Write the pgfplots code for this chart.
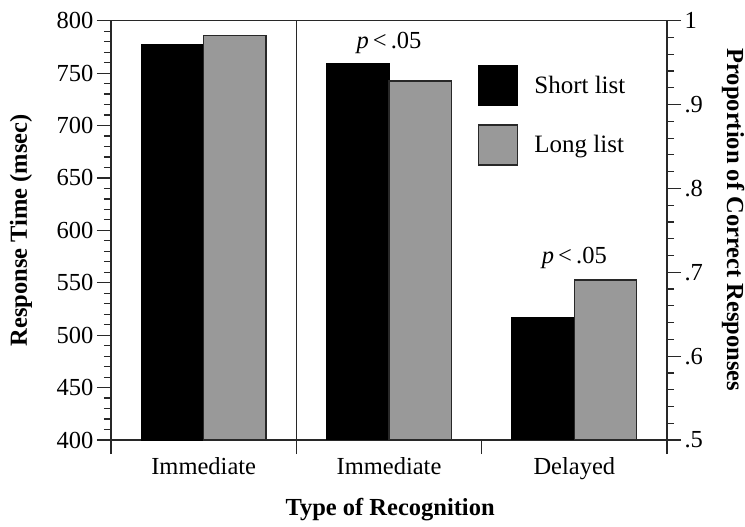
\documentclass[border=0pt]{standalone}
\usepackage{fontspec}
\setmainfont{Liberation Serif}
\usepackage{pgfplots}
\pgfplotsset{compat=1.18}
\definecolor{bargray}{RGB}{153,153,153}
\definecolor{axgray}{RGB}{40,40,40}
\begin{document}
\begin{tikzpicture}
\path[use as bounding box] (-111bp,-87bp) rectangle (634bp,440bp);
\pgfplotsset{
  common/.style={
    scale only axis, width=556bp, height=419.3bp,
    xmin=0, xmax=3,
    axis line style={axgray, line width=1.4bp},
    tick style={axgray, line width=1.2bp},
    major tick length=14bp, minor tick length=7bp,
    tick align=outside,
    /pgf/number format/assume math mode=true,
    ticklabel style={font=\fontsize{24.5bp}{28bp}\selectfont},
    label style={font=\fontsize{24.5bp}{29bp}\selectfont\bfseries},
  }
}
\begin{axis}[common,
  ymin=400, ymax=800,
  ytick={400,450,500,550,600,650,700,750,800},
  minor y tick num=4,
  ytick pos=left,
  xtick={0,1,2,3},
  xticklabels={Immediate,Immediate,Delayed},
  x tick label as interval,
  xtick pos=bottom,
  xlabel={Type of Recognition},
  ylabel={Response Time (msec)},
  ylabel style={at={(axis description cs:-0.162,0.5)}, anchor=center},
  xlabel style={at={(axis description cs:0.502,-0.167)}, anchor=center},
]
\addplot[ybar, bar width=0.337, bar shift=-0.1685, fill=black, draw=black, line width=1bp] coordinates {(0.5,777)};
\addplot[ybar, bar width=0.337, bar shift=0.1685, fill=bargray, draw=axgray, line width=1.4bp] coordinates {(0.5,786)};
\draw[axgray, line width=1.6bp] (axis cs:1,400) -- (axis cs:1,800);
\end{axis}
\begin{axis}[common,
  ymin=0.5, ymax=1,
  ytick={0.5,0.6,0.7,0.8,0.9,1},
  yticklabels={.5,.6,.7,.8,.9,1},
  minor y tick num=4,
  axis y line*=right,
  axis x line=none,
  ylabel={Proportion of Correct Responses},
  ylabel style={at={(axis description cs:1.119,0.525)}, anchor=center, rotate=180},
  legend style={at={(rel axis cs:0.660,0.894)}, anchor=north west, draw=none, fill=none,
    inner sep=0pt, outer sep=0pt, row sep=18bp, column sep=14bp,
    font=\fontsize{25bp}{29bp}\selectfont},
  legend cell align=left,
  legend image code/.code={\draw[#1] (0bp,-20bp) rectangle (39bp,20bp);},
]
\addplot[ybar, bar width=0.337, bar shift=-0.1685, fill=black, draw=black, line width=1bp] coordinates {(1.5,0.949) (2.5,0.646)};
\addlegendentry{Short list}
\addplot[ybar, bar width=0.337, bar shift=0.1685, fill=bargray, draw=axgray, line width=1.4bp] coordinates {(1.5,0.928) (2.5,0.691)};
\addlegendentry{Long list}
\node[anchor=base, font=\fontsize{24.5bp}{28bp}\selectfont] at (axis cs:1.5,0.9674) {\textit{p}\,<\,.05};
\node[anchor=base, font=\fontsize{24.5bp}{28bp}\selectfont] at (axis cs:2.5,0.711) {\textit{p}\,<\,.05};
\end{axis}
\end{tikzpicture}
\end{document}
